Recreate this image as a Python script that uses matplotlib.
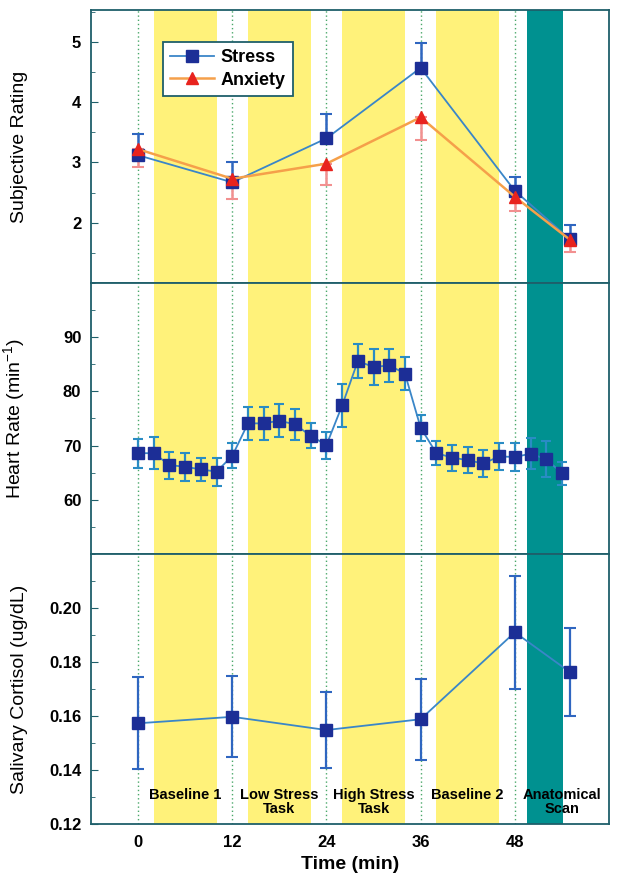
import matplotlib
matplotlib.use("Agg")
import matplotlib.pyplot as plt
from matplotlib.ticker import MultipleLocator

plt.rcParams['font.family'] = ['Liberation Sans', 'DejaVu Sans']

# ---- data ----
rating_time = [0, 12, 24, 36, 48, 55]
stress = [3.12, 2.67, 3.40, 4.57, 2.53, 1.73]
stress_err = [0.35, 0.33, 0.40, 0.42, 0.23, 0.23]
anxiety = [3.22, 2.73, 2.98, 3.75, 2.43, 1.72]
anxiety_err = [0.30, 0.33, 0.35, 0.38, 0.23, 0.20]

hr_time = [0, 2, 4, 6, 8, 10, 12, 14, 16, 18, 20, 22, 24, 26, 28, 30, 32, 34,
           36, 38, 40, 42, 44, 46, 48, 50, 52, 54]
heart_rate = [68.6, 68.6, 66.4, 66.1, 65.6, 65.2, 68.1, 74.1, 74.1, 74.6, 73.9,
              71.8, 70.1, 77.4, 85.6, 84.5, 84.8, 83.3, 73.3, 68.6, 67.8, 67.3,
              66.7, 68.0, 67.9, 68.5, 67.5, 64.9]
heart_rate_err = [2.7, 2.9, 2.5, 2.6, 2.2, 2.6, 2.3, 3.0, 3.0, 3.0, 2.9, 2.3,
                  2.5, 3.9, 3.1, 3.3, 3.0, 3.0, 2.4, 2.2, 2.4, 2.4, 2.5, 2.5,
                  2.5, 2.9, 3.3, 2.1]

cort_time = [0, 12, 24, 36, 48, 55]
cortisol = [0.1573, 0.1597, 0.1548, 0.1588, 0.1910, 0.1763]
cortisol_err = [0.0170, 0.0150, 0.0142, 0.0150, 0.0210, 0.0162]

phase_spans = [(2, 10), (14, 22), (26, 34), (38, 46)]
scan_span = (49.5, 54.2)
phase_labels = ["Baseline 1", "Low Stress\nTask", "High Stress\nTask",
                "Baseline 2", "Anatomical\nScan"]
phase_label_x = [6, 18, 30, 42, 54]
event_times = [0, 12, 24, 36, 48]
xticks = [0, 12, 24, 36, 48]

# ---- styles ----
YELLOW = '#fff27a'
TEAL = '#009190'
SPINE = '#1f5f6a'
VLINE = '#4aa86a'
NAVY = '#1c2e96'
BLUE_LINE = '#3a86c8'
BLUE_ERR = '#2f66c0'
HR_ERR = '#2a8cc4'
RED = '#e8231e'
ORANGE = '#f5a04a'
PINK = '#f29090'

fig = plt.figure(figsize=(6.29, 8.8), dpi=100)
left, right = 91 / 629, 609 / 629
bounds = [(10, 283), (283, 554), (554, 824)]
axes = []
for top, bot in bounds:
    ax = fig.add_axes([left, 1 - bot / 880, right - left, (bot - top) / 880])
    axes.append(ax)

for ax in axes:
    ax.set_xlim(-6, 60)
    for a, b in phase_spans:
        ax.axvspan(a, b, color=YELLOW, lw=0, zorder=0)
    ax.axvspan(scan_span[0], scan_span[1], color=TEAL, lw=0, zorder=0)
    for t in event_times:
        ax.axvline(t, color=VLINE, ls=(0, (1, 2)), lw=1.0, zorder=1)
    for s in ax.spines.values():
        s.set_color(SPINE)
        s.set_linewidth(1.3)
    ax.tick_params(axis='both', which='both', direction='in', color=SPINE,
                   labelsize=12)
    ax.tick_params(axis='y', which='major', length=5, pad=7)
    ax.tick_params(axis='y', which='minor', length=3)
    ax.tick_params(axis='x', which='major', length=0)
    ax.set_xticks(xticks)

# ---- top panel ----
ax = axes[0]
ax.errorbar(rating_time, anxiety, yerr=[anxiety_err, [0] * len(anxiety_err)],
            fmt='none', ecolor=PINK, elinewidth=1.8, capsize=4, capthick=1.5,
            zorder=3)
ax.errorbar(rating_time, stress, yerr=[[0] * len(stress_err), stress_err],
            fmt='none', ecolor=BLUE_ERR, elinewidth=1.8, capsize=4, capthick=1.5,
            zorder=3)
ax.plot(rating_time, stress, color=BLUE_LINE, lw=1.3, marker='s', ms=8,
        mfc=NAVY, mec=NAVY, label='Stress', zorder=4)
ax.plot(rating_time, anxiety, color=ORANGE, lw=1.8, marker='^', ms=9,
        mfc=RED, mec=RED, label='Anxiety', zorder=5)
ax.set_ylim(1, 5.53)
ax.set_yticks([2, 3, 4, 5])
ax.yaxis.set_minor_locator(MultipleLocator(0.5))
ax.set_yticklabels(['2', '3', '4', '5'], fontweight='bold')
ax.set_xticklabels([])
ax.set_ylabel('Subjective Rating', fontsize=14)
leg = ax.legend(loc='upper left', bbox_to_anchor=(0.139, 0.883), frameon=True,
                fancybox=False, prop={'weight': 'bold', 'size': 13},
                handlelength=2.4, borderpad=0.4, labelspacing=0.3,
                handletextpad=0.4, borderaxespad=0)
leg.get_frame().set_edgecolor(SPINE)
leg.get_frame().set_linewidth(1.3)
leg.get_frame().set_alpha(1)

# ---- middle panel ----
ax = axes[1]
ax.errorbar(hr_time, heart_rate, yerr=heart_rate_err, fmt='none', ecolor=HR_ERR,
            elinewidth=1.6, capsize=3.5, capthick=1.5, zorder=3)
ax.plot(hr_time, heart_rate, color=BLUE_LINE, lw=1.3, marker='s', ms=8,
        mfc=NAVY, mec=NAVY, zorder=4)
ax.set_ylim(50, 100)
ax.set_yticks([60, 70, 80, 90])
ax.yaxis.set_minor_locator(MultipleLocator(5))
ax.set_yticklabels(['60', '70', '80', '90'], fontweight='bold')
ax.set_xticklabels([])
ax.set_ylabel('Heart Rate (min$^{\\mathregular{-1}}$)', fontsize=14)

# ---- bottom panel ----
ax = axes[2]
ax.errorbar(cort_time, cortisol, yerr=cortisol_err, fmt='none', ecolor=BLUE_ERR,
            elinewidth=1.6, capsize=4, capthick=1.5, zorder=3)
ax.plot(cort_time, cortisol, color=BLUE_LINE, lw=1.3, marker='s', ms=8,
        mfc=NAVY, mec=NAVY, zorder=4)
ax.set_ylim(0.12, 0.22)
ax.set_yticks([0.12, 0.14, 0.16, 0.18, 0.20])
ax.yaxis.set_minor_locator(MultipleLocator(0.01))
ax.set_yticklabels(['0.12', '0.14', '0.16', '0.18', '0.20'], fontweight='bold')
ax.set_xticklabels([str(t) for t in xticks], fontweight='bold')
ax.tick_params(axis='x', pad=8)
ax.set_ylabel('Salivary Cortisol (ug/dL)', fontsize=14)
ax.set_xlabel('Time (min)', fontsize=14, fontweight='bold', labelpad=4)
for lx, txt in zip(phase_label_x, phase_labels):
    ax.text(lx, 0.1335, txt, ha='center', va='top', fontsize=10.5,
            fontweight='bold', linespacing=1.05, zorder=6)

for a in axes:
    a.yaxis.set_label_coords(-0.122, 0.5)

fig.savefig('out.png', dpi=100)
